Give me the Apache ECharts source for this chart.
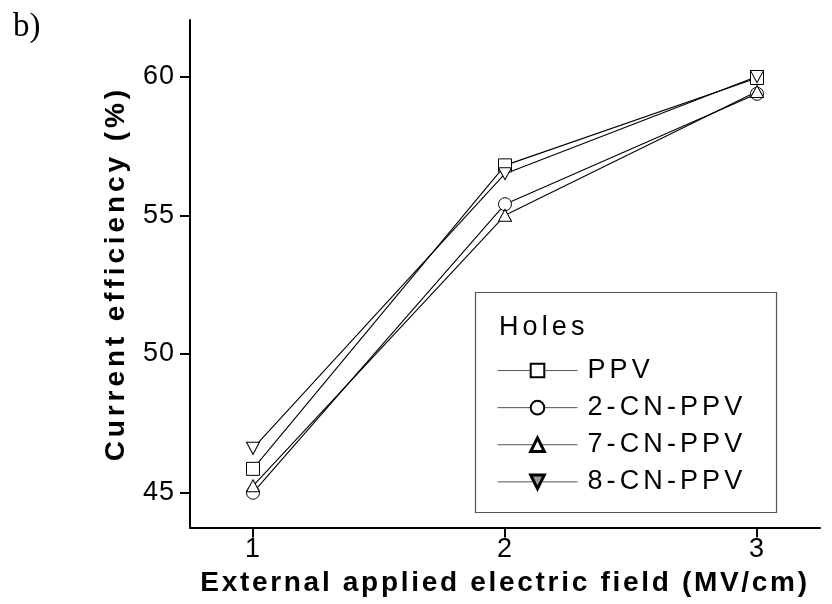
<!DOCTYPE html>
<html>
<head>
<meta charset="utf-8">
<script src="https://cdn.jsdelivr.net/npm/echarts@6/dist/echarts.min.js"></script>
<style>
html,body{margin:0;padding:0;background:#fff;}
#chart{width:832px;height:604px;}
</style>
</head>
<body>
<div id="chart"></div>
<script>
const xValues = [1, 2, 3];
const ppv   = [45.86, 56.8, 59.95];
const cn2   = [45.0, 55.4, 59.38];
const cn7   = [45.25, 55.0, 59.46];
const cn8   = [46.6, 56.5, 60.0];
const seriesNames = ['PPV', '2-CN-PPV', '7-CN-PPV', '8-CN-PPV'];
const yTicks = [45, 50, 55, 60];
const xTicks = [1, 2, 3];

// letter spacing of the original figure's text (canvas letterSpacing, keyed on font string)
(function () {
  const proto = CanvasRenderingContext2D.prototype;
  const desc = Object.getOwnPropertyDescriptor(proto, 'font');
  if (!desc || !('letterSpacing' in proto)) return;
  Object.defineProperty(proto, 'font', {
    configurable: true,
    get() { return desc.get.call(this); },
    set(v) {
      desc.set.call(this, v);
      let sp = '0px';
      if (/bold/.test(v) && /Liberation Sans, sans-serif/.test(v)) sp = '3.9px';
      else if (/bold/.test(v) && /Liberation Sans/.test(v)) sp = '2.7px';
      else if (/Liberation Sans/.test(v)) sp = '4.1px';
      else if (/Arial/.test(v)) sp = '1px';
      this.letterSpacing = sp;
    }
  });
})();

const chart = echarts.init(document.getElementById('chart'));
const tickFont = 'Arial';
const spacedFont = 'Liberation Sans';
const downTri = 'path://M0,0 L10,0 L5,9 Z';
const upTri = 'path://M5,0 L10,9 L0,9 Z';

function mk(name, vals, symbol, size) {
  return {
    name: name,
    type: 'line',
    data: xValues.map((x, i) => [x, vals[i]]),
    symbol: symbol,
    symbolSize: size,
    showAllSymbol: true,
    lineStyle: { color: '#000', width: 1.1 },
    itemStyle: { color: '#fff', borderColor: '#000', borderWidth: 1 },
    emphasis: { disabled: true },
    z: 3
  };
}

chart.setOption({
  animation: false,
  backgroundColor: '#fff',
  grid: { left: 190, right: 12, top: 20, bottom: 72, containLabel: false },
  xAxis: {
    type: 'value', min: 0.75, max: 3.25,
    axisLine: { show: true, onZero: false, lineStyle: { color: '#000', width: 2 } },
    axisTick: { show: true, length: 10, lineStyle: { width: 2, color: '#000' }, customValues: xTicks },
    axisLabel: { customValues: xTicks, color: '#000', fontSize: 27, fontFamily: tickFont, margin: 8 },
    splitLine: { show: false },
    name: 'External applied electric field (MV/cm)',
    nameLocation: 'middle', nameGap: 35,
    nameTextStyle: { color: '#000', fontSize: 28, fontWeight: 'bold', fontFamily: spacedFont }
  },
  yAxis: {
    type: 'value', min: 43.75, max: 62.04,
    axisLine: { show: true, onZero: false, lineStyle: { color: '#000', width: 2 } },
    axisTick: { show: true, length: 10, lineStyle: { width: 2, color: '#000' }, customValues: yTicks },
    axisLabel: { customValues: yTicks, color: '#000', fontSize: 27, fontFamily: tickFont, margin: 15 },
    splitLine: { show: false },
    name: 'Current efficiency (%)',
    nameLocation: 'middle', nameGap: 58, nameRotate: 90,
    nameTextStyle: { color: '#000', fontSize: 28, fontWeight: 'bold', fontFamily: 'Liberation Sans, sans-serif' }
  },
  legend: {
    orient: 'vertical',
    left: 492, top: 350,
    itemWidth: 80, itemHeight: 17, itemGap: 6,
    lineStyle: { color: '#555', width: 1 },
    textStyle: { color: '#000', fontSize: 27, fontFamily: spacedFont, padding: [0, 0, 0, 5] },
    selectedMode: false,
    data: [
      { name: seriesNames[0] },
      { name: seriesNames[1] },
      { name: seriesNames[2], itemStyle: { borderWidth: 3, borderColor: '#000' } },
      { name: seriesNames[3], itemStyle: { borderWidth: 3, borderColor: '#000', color: '#999' } }
    ]
  },
  graphic: [
    { type: 'rect', shape: { x: 475.5, y: 292.5, width: 301, height: 220 },
      style: { fill: '#fff', stroke: '#555', lineWidth: 1.2 }, z: 1 },
    { type: 'text', left: 499, top: 312, z: 5,
      style: { text: 'Holes', fill: '#000', font: '27px Liberation Sans' } },
    { type: 'text', left: 13, top: 11, z: 5,
      style: { text: 'b)', fill: '#000', font: '33px Liberation Serif, serif' } }
  ],
  series: [
    mk(seriesNames[0], ppv, 'rect', 13),
    mk(seriesNames[1], cn2, 'circle', 13),
    mk(seriesNames[2], cn7, upTri, [13, 12]),
    mk(seriesNames[3], cn8, downTri, [13, 12])
  ]
});
</script>
</body>
</html>
